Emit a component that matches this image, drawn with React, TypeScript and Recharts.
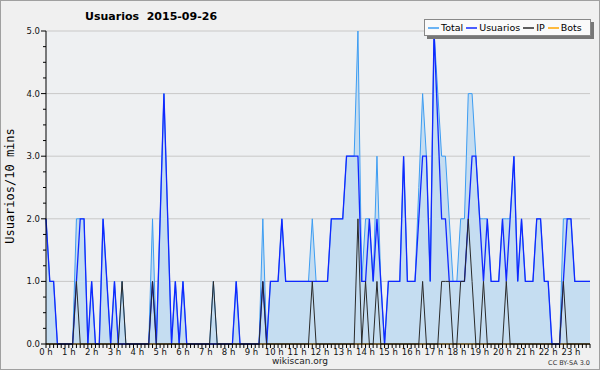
import { ComposedChart, Area, Line, XAxis, YAxis, CartesianGrid } from "recharts";

// one value per 10 minutes, one row per hour
const total = [
  2, 1, 1, 0, 0, 0,
  0, 0, 2, 2, 2, 0,
  1, 0, 0, 2, 1, 0,
  1, 0, 1, 0, 0, 0,
  0, 0, 0, 0, 2, 0,
  2, 4, 2, 0, 1, 0,
  1, 0, 0, 0, 0, 0,
  0, 0, 1, 0, 0, 0,
  0, 0, 1, 0, 0, 0,
  0, 0, 0, 2, 0, 1,
  1, 1, 2, 1, 1, 1,
  1, 1, 1, 1, 2, 1,
  1, 1, 1, 2, 2, 2,
  2, 3, 3, 3, 5, 1,
  2, 2, 1, 3, 1, 0,
  1, 1, 1, 1, 3, 1,
  1, 1, 2.5, 4, 3, 1,
  5, 4, 3, 3, 2, 1,
  1, 2, 2, 4, 4, 3,
  2, 2, 2, 1, 1, 1,
  2, 2, 2, 3, 1, 2,
  1, 1, 1, 2, 2, 1,
  1, 0, 0, 0, 2, 2,
  2, 1, 1, 1, 1, 1,
];

const usuarios = [
  2, 1, 1, 0, 0, 0,
  0, 0, 1, 2, 2, 0,
  1, 0, 0, 2, 1, 0,
  1, 0, 0, 0, 0, 0,
  0, 0, 0, 0, 1, 0,
  2, 4, 2, 0, 1, 0,
  1, 0, 0, 0, 0, 0,
  0, 0, 0, 0, 0, 0,
  0, 0, 1, 0, 0, 0,
  0, 0, 0, 1, 0, 1,
  1, 1, 2, 1, 1, 1,
  1, 1, 1, 1, 1, 1,
  1, 1, 1, 2, 2, 2,
  2, 3, 3, 3, 3, 1,
  1, 2, 1, 2, 1, 0,
  1, 1, 1, 1, 3, 1,
  1, 1, 2, 3, 3, 1,
  5, 3.5, 2, 2, 1, 1,
  1, 1, 1, 2, 3, 3,
  2, 1, 2, 1, 1, 1,
  2, 1, 2, 3, 1, 2,
  1, 1, 1, 2, 2, 1,
  1, 0, 0, 0, 1, 2,
  2, 1, 1, 1, 1, 1,
];

const ip = [
  0, 0, 0, 0, 0, 0,
  0, 0, 1, 0, 0, 0,
  0, 0, 0, 0, 0, 0,
  0, 0, 1, 0, 0, 0,
  0, 0, 0, 0, 1, 0,
  0, 0, 0, 0, 0, 0,
  0, 0, 0, 0, 0, 0,
  0, 0, 1, 0, 0, 0,
  0, 0, 0, 0, 0, 0,
  0, 0, 0, 1, 0, 0,
  0, 0, 0, 0, 0, 0,
  0, 0, 0, 0, 1, 0,
  0, 0, 0, 0, 0, 0,
  0, 0, 0, 0, 2, 0,
  1, 0, 0, 1, 0, 0,
  0, 0, 0, 0, 0, 0,
  0, 0, 0, 1, 0, 0,
  0, 0, 1, 1, 1, 0,
  0, 1, 1, 2, 1, 0,
  0, 1, 0, 0, 0, 0,
  0, 1, 0, 0, 0, 0,
  0, 0, 0, 0, 0, 0,
  0, 0, 0, 0, 1, 0,
  0, 0, 0, 0, 0, 0,
];

const bots = [
  0, 0, 0, 0, 0, 0, 0, 0, 0, 0, 0, 0,
  0, 0, 0, 0, 0, 0, 0, 0, 0, 0, 0, 0,
  0, 0, 0, 0, 0, 0, 0, 0, 0, 0, 0, 0,
  0, 0, 0, 0, 0, 0, 0, 0, 0, 0, 0, 0,
  0, 0, 0, 0, 0, 0, 0, 0, 0, 0, 0, 0,
  0, 0, 0, 0, 0, 0, 0, 0, 0, 0, 0, 0,
  0, 0, 0, 0, 0, 0, 0, 0, 0, 0, 0, 0,
  0, 0, 0, 0, 0, 0, 0, 0, 0, 0, 0, 0,
  0, 0, 0, 0, 0, 0, 0, 0, 0, 0, 0, 0,
  0, 0, 0, 0, 0, 0, 0, 0, 0, 0, 0, 0,
  0, 0, 0, 0, 0, 0, 0, 0, 0, 0, 0, 0,
  0, 0, 0, 0, 0, 0, 0, 0, 0, 0, 0, 0,
];

const hourLabels = [
  "0 h", "1 h", "2 h", "3 h", "4 h", "5 h", "6 h", "7 h", "8 h", "9 h", "10 h", "11 h",
  "12 h", "13 h", "14 h", "15 h", "16 h", "17 h", "18 h", "19 h", "20 h", "21 h", "22 h", "23 h",
];
const yLabels = ["0.0", "1.0", "2.0", "3.0", "4.0", "5.0"];

const data = total.map((t, i) => ({
  min: i * 10,
  total: t,
  usuarios: usuarios[i],
  ip: ip[i],
  bots: bots[i],
}));
const xTicks = data.map((d) => d.min);
const yTicks = Array.from({ length: 21 }, (_, i) => i / 4);

const TICK_FONT = "DejaVu Sans, sans-serif";

const XTick = ({ x, y, payload }: any) => {
  const m = payload.value;
  const hour = m % 60 === 0;
  return (
    <g>
      <line x1={x} x2={x} y1={y} y2={y + 4} stroke="#000" />
      {hour && (
        <text x={x} y={y + 11} textAnchor="middle" fontSize={8.5} fontFamily={TICK_FONT} fill="#111">
          {hourLabels[m / 60]}
        </text>
      )}
    </g>
  );
};

const YTick = ({ x, y, payload }: any) => {
  const v = payload.value;
  const major = Number.isInteger(v);
  return (
    <g>
      <line x1={x - (major ? 5 : 3)} x2={x} y1={y} y2={y} stroke="#000" />
      {major && (
        <text x={x - 6} y={y + 3} textAnchor="end" fontSize={8.5} fontFamily={TICK_FONT} fill="#111">
          {yLabels[v]}
        </text>
      )}
    </g>
  );
};

const legendItems = [
  { name: "Total", color: "#3d9df2" },
  { name: "Usuarios", color: "#1028ff" },
  { name: "IP", color: "#2a2a2a" },
  { name: "Bots", color: "#ffa500" },
];

export default function App() {
  return (
    <div
      style={{
        position: "absolute",
        left: 0,
        top: 0,
        width: 600,
        height: 370,
        background: "#f0f0f0",
        boxShadow: "inset 0 0 0 1px #a0a0a0",
        fontFamily: TICK_FONT,
      }}
    >
      <ComposedChart width={600} height={370} data={data} margin={{ top: 31, right: 10, bottom: 0, left: 0 }}>
        <CartesianGrid vertical={false} horizontalValues={[1, 2, 3, 4, 5]} stroke="#c8c8c8" fill="#eef0f2" />
        <XAxis
          dataKey="min"
          type="number"
          domain={[0, 1430]}
          ticks={xTicks}
          interval={0}
          tickSize={0}
          tickMargin={0}
          tickLine={false}
          tick={(p: any) => <XTick {...p} />}
          axisLine={{ stroke: "#000" }}
          height={26}
        />
        <YAxis
          domain={[0, 5]}
          ticks={yTicks}
          interval={0}
          tickSize={0}
          tickMargin={0}
          tickLine={false}
          tick={(p: any) => <YTick {...p} />}
          axisLine={{ stroke: "#000" }}
          width={46}
        />
        <Area
          type="linear"
          dataKey="total"
          stroke="#3d9df2"
          strokeWidth={1}
          fill="#c5ddf1"
          fillOpacity={1}
          dot={false}
          activeDot={false}
          isAnimationActive={false}
        />
        <Line type="linear" dataKey="bots" stroke="#ffa500" strokeWidth={1} dot={false} activeDot={false} isAnimationActive={false} />
        <Line type="linear" dataKey="usuarios" stroke="#1028ff" strokeWidth={1.3} dot={false} activeDot={false} isAnimationActive={false} />
        <Line type="linear" dataKey="ip" stroke="#2a2a2a" strokeWidth={1} dot={false} activeDot={false} isAnimationActive={false} />
      </ComposedChart>

      <div style={{ position: "absolute", left: 85, top: 10, fontSize: 11, fontWeight: "bold", whiteSpace: "pre", color: "#000" }}>
        {"Usuarios  2015-09-26"}
      </div>

      <div
        style={{
          position: "absolute",
          left: 10,
          top: 186,
          transform: "translate(-50%, -50%) rotate(-90deg)",
          fontFamily: "DejaVu Sans Mono, monospace",
          fontSize: 12,
          whiteSpace: "nowrap",
          color: "#000",
        }}
      >
        Usuarios/10 mins
      </div>

      <div
        style={{
          position: "absolute",
          left: 424,
          top: 19,
          width: 167,
          height: 17,
          boxSizing: "border-box",
          background: "#fafafa",
          border: "1px solid #888",
          boxShadow: "3px 3px 0 #777",
          display: "flex",
          alignItems: "center",
          paddingLeft: 3,
          fontSize: 9.5,
          color: "#000",
          whiteSpace: "nowrap",
          overflow: "hidden",
        }}
      >
        {legendItems.map((it) => (
          <span key={it.name} style={{ display: "flex", alignItems: "center", marginRight: 3 }}>
            <svg width={11} height={8} style={{ marginRight: 2 }}>
              <line x1={0} x2={11} y1={4} y2={4} stroke={it.color} strokeWidth={1.5} />
            </svg>
            {it.name}
          </span>
        ))}
      </div>

      <div style={{ position: "absolute", left: 0, width: 600, top: 356, textAlign: "center", fontSize: 9, color: "#222" }}>
        wikiscan.org
      </div>
      <div style={{ position: "absolute", right: 10, top: 359, fontSize: 6.5, color: "#333" }}>CC BY-SA 3.0</div>
    </div>
  );
}
